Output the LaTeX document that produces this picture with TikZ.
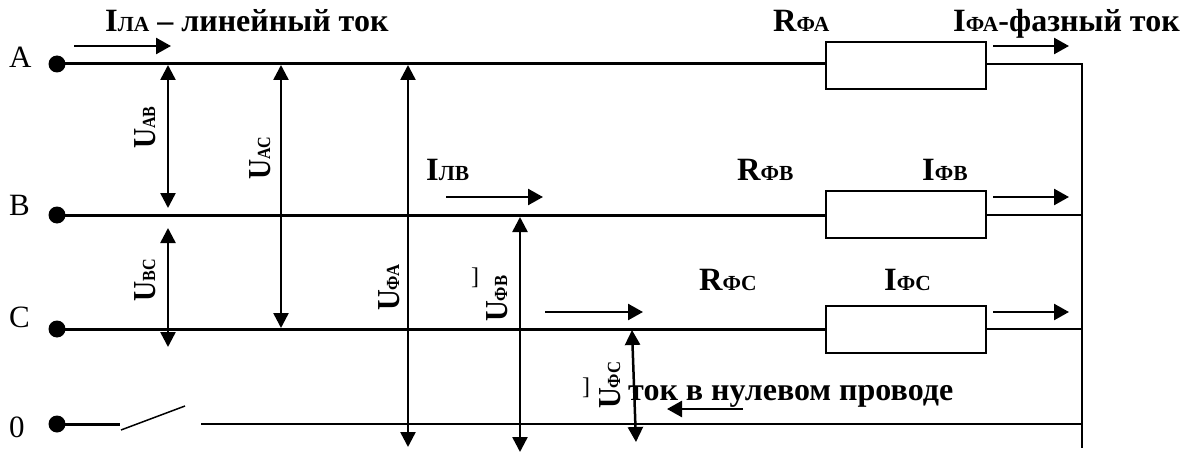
\documentclass[tikz,border=0pt]{standalone}
\usepackage{fontspec}
\setmainfont{Liberation Serif}
\usetikzlibrary{arrows.meta}
\newcommand{\Sb}[2]{\fontsize{32.5}{32.5}\selectfont\bfseries #1\fontsize{21.5}{21.5}\selectfont #2}
\newcommand{\Vb}[3]{\scalebox{#3}[1]{\fontsize{32}{32}\selectfont\bfseries #1\fontsize{18.5}{18.5}\selectfont #2}}
\newcommand{\BigTxt}{\fontsize{32}{32}\selectfont\bfseries}
\tikzset{
  x=1pt,y=-1pt,
  thickwire/.style={line width=3pt,black},
  thinwire/.style={line width=2pt,black},
  tip/.style={-{Triangle[length=15pt,width=16pt]}},
  current/.style={line width=2.5pt,tip},
  volt/.style={line width=2.5pt,{Triangle[length=15pt,width=15pt]}-{Triangle[length=15pt,width=15pt]}},
  terminal/.style={circle,fill=black,inner sep=0pt,minimum size=17pt},
  load/.style={draw,line width=2pt,fill=white,minimum width=160pt,minimum height=47pt,inner sep=0pt,anchor=north west},
  lbl/.style={inner sep=0pt,anchor=base west},
  phase/.style={inner sep=0pt,anchor=base west,font=\fontsize{31}{31}\selectfont},
  vlbl/.style={inner sep=0pt,anchor=base west,rotate=90},
  brk/.style={inner sep=0pt,anchor=base west,font=\fontsize{24}{24}\selectfont},
}
\begin{document}
\begin{tikzpicture}
\useasboundingbox (0,0) rectangle (1195,452);
% terminals and loads
\node[terminal] (tA) at (57,64) {};
\node[terminal] (tB) at (57,215) {};
\node[terminal] (tC) at (57,329) {};
\node[terminal] (t0) at (57,424) {};
\node[load] (RA) at (825,41) {};
\node[load] (RB) at (825,190) {};
\node[load] (RC) at (825,305) {};
% bus coordinates
\coordinate (busA) at (1082,64);
\coordinate (busB) at (1082,215);
\coordinate (busC) at (1082,329);
\coordinate (bus0) at (1082,424);
\coordinate (busEnd) at (1082,448);
\coordinate (sw1) at (120,424);
\coordinate (sw2) at (121,430);
\coordinate (sw3) at (185,406);
\coordinate (sw4) at (201,424);
% wires
\draw[thickwire] (tA.center) -- (tA.center -| RA.west);
\draw[thickwire] (tB.center) -- (tB.center -| RB.west);
\draw[thickwire] (tC.center) -- (tC.center -| RC.west);
\draw[thinwire] (RA.east |- busA) -- (busA) -- (busEnd);
\draw[thinwire] (RB.east |- busB) -- (busB);
\draw[thinwire] (RC.east |- busC) -- (busC);
\draw[thickwire] (t0.center) -- (sw1);
\draw[line width=1.5pt] (sw2) -- (sw3);
\draw[thinwire] (sw4) -- (bus0);
% voltage arrows
\coordinate (ab1) at (168,65); \coordinate (ab2) at (168,208);
\coordinate (bc1) at (168,228); \coordinate (bc2) at (168,347);
\coordinate (ac1) at (281,65); \coordinate (ac2) at (281,328);
\coordinate (fa1) at (408,65); \coordinate (fa2) at (408,447);
\coordinate (fb1) at (520,217); \coordinate (fb2) at (520,452);
\coordinate (fc1) at (632,330); \coordinate (fc2) at (636,442);
\draw[volt] (ab1) -- (ab2);
\draw[volt] (bc1) -- (bc2);
\draw[volt] (ac1) -- (ac2);
\draw[volt] (fa1) -- (fa2);
\draw[volt] (fb1) -- (fb2);
\draw[volt] (fc1) -- (fc2);
% current arrows
\coordinate (a1) at (74,46); \coordinate (a2) at (171,46);
\coordinate (b1) at (446,197); \coordinate (b2) at (543,197);
\coordinate (c1) at (545,312); \coordinate (c2) at (643,312);
\coordinate (d1) at (993,46); \coordinate (d2) at (1069,46);
\coordinate (e1) at (993,197); \coordinate (e2) at (1069,197);
\coordinate (f1) at (993,312); \coordinate (f2) at (1069,312);
\coordinate (g1) at (743,409); \coordinate (g2) at (667,409);
\draw[current] (a1) -- (a2);
\draw[current] (b1) -- (b2);
\draw[current] (c1) -- (c2);
\draw[current] (d1) -- (d2);
\draw[current] (e1) -- (e2);
\draw[current] (f1) -- (f2);
\draw[current] (g1) -- (g2);
% phase labels
\node[phase] (lA) at (9,68) {A};
\node[phase] (lB) at (9,215) {B};
\node[phase] (lC) at (9,327) {C};
\node[phase] (l0) at (9,437) {0};
% labels
\node[lbl] (ila) at (105,32) {\Sb{I}{ЛА}\BigTxt\ – линейный ток};
\node[lbl] (rfa) at (773,32) {\Sb{R}{ФА}};
\node[lbl] (ifa) at (953,32) {\Sb{I}{ФА}\BigTxt-фазный ток};
\node[lbl] (ilb) at (426,180) {\Sb{I}{ЛВ}};
\node[lbl] (rfb) at (737,180) {\Sb{R}{ФВ}};
\node[lbl] (ifb) at (922,180) {\Sb{I}{ФВ}};
\node[lbl] (rfc) at (699,290) {\Sb{R}{ФС}};
\node[lbl] (ifc) at (884,290) {\Sb{I}{ФС}};
\node[lbl] (zero) at (628,400) {\BigTxt ток в нулевом проводе};
\node[vlbl] (uab) at (155,149) {\Vb{U}{AB}{0.87}};
\node[vlbl] (uac) at (270,180) {\Vb{U}{AC}{0.87}};
\node[vlbl] (ubc) at (155,302) {\Vb{U}{BC}{0.87}};
\node[vlbl] (ufa) at (399,311) {\Vb{U}{ФА}{0.9}};
\node[vlbl] (ufb) at (507,322) {\Vb{U}{ФВ}{0.9}};
\node[vlbl] (ufc) at (620,409) {\Vb{U}{ФС}{0.9}};
\node[brk] (br1) at (471,284) {]};
\node[brk] (br2) at (582,394) {]};
\end{tikzpicture}
\end{document}
